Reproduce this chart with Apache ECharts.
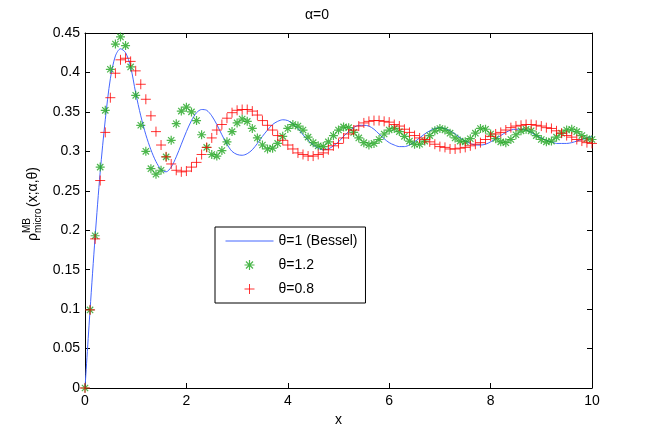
<!DOCTYPE html>
<html>
<head>
<meta charset="utf-8">
<script src="https://cdn.jsdelivr.net/npm/echarts@6.0.0/dist/echarts.min.js"></script>
<style>
  html, body { margin: 0; padding: 0; background: #fff; }
  #main { width: 654px; height: 436px; }
</style>
</head>
<body>
<div id="main"></div>
<script>
// x grid (one marker every 0.1)
var xs = [0, 0.1, 0.2, 0.3, 0.4, 0.5, 0.6, 0.7, 0.8, 0.9,
  1, 1.1, 1.2, 1.3, 1.4, 1.5, 1.6, 1.7, 1.8, 1.9,
  2, 2.1, 2.2, 2.3, 2.4, 2.5, 2.6, 2.7, 2.8, 2.9,
  3, 3.1, 3.2, 3.3, 3.4, 3.5, 3.6, 3.7, 3.8, 3.9,
  4, 4.1, 4.2, 4.3, 4.4, 4.5, 4.6, 4.7, 4.8, 4.9,
  5, 5.1, 5.2, 5.3, 5.4, 5.5, 5.6, 5.7, 5.8, 5.9,
  6, 6.1, 6.2, 6.3, 6.4, 6.5, 6.6, 6.7, 6.8, 6.9,
  7, 7.1, 7.2, 7.3, 7.4, 7.5, 7.6, 7.7, 7.8, 7.9,
  8, 8.1, 8.2, 8.3, 8.4, 8.5, 8.6, 8.7, 8.8, 8.9,
  9, 9.1, 9.2, 9.3, 9.4, 9.5, 9.6, 9.7, 9.8, 9.9, 10];

// theta = 1 (Bessel), blue line
var bessel = [0, 0.099, 0.192, 0.274, 0.340, 0.392, 0.421, 0.430, 0.425, 0.407,
  0.374, 0.345, 0.321, 0.302, 0.287, 0.277, 0.274, 0.280, 0.293, 0.309,
  0.325, 0.339, 0.349, 0.353, 0.352, 0.345, 0.334, 0.321, 0.309, 0.300,
  0.296, 0.295, 0.297, 0.302, 0.310, 0.319, 0.327, 0.334, 0.338, 0.340,
  0.339, 0.335, 0.329, 0.321, 0.314, 0.308, 0.304, 0.302, 0.303, 0.307,
  0.312, 0.319, 0.325, 0.330, 0.333, 0.333, 0.332, 0.328, 0.322, 0.316,
  0.311, 0.308, 0.306, 0.306, 0.308, 0.312, 0.317, 0.322, 0.326, 0.329,
  0.330, 0.329, 0.326, 0.322, 0.317, 0.313, 0.310, 0.308, 0.308, 0.309,
  0.312, 0.316, 0.320, 0.324, 0.327, 0.328, 0.328, 0.327, 0.324, 0.320,
  0.317, 0.314, 0.312, 0.310, 0.310, 0.310, 0.311, 0.313, 0.315, 0.317, 0.319];

// theta = 1.2, green asterisks
var theta12 = [0, 0.099, 0.193, 0.280, 0.352, 0.404, 0.436, 0.445, 0.434, 0.407,
  0.371, 0.333, 0.300, 0.278, 0.271, 0.276, 0.293, 0.314, 0.335, 0.351,
  0.356, 0.350, 0.339, 0.321, 0.305, 0.296, 0.294, 0.301, 0.312, 0.325,
  0.336, 0.341, 0.338, 0.329, 0.317, 0.308, 0.303, 0.304, 0.310, 0.319,
  0.329, 0.334, 0.332, 0.327, 0.318, 0.311, 0.307, 0.306, 0.312, 0.320,
  0.327, 0.331, 0.330, 0.324, 0.317, 0.311, 0.308, 0.310, 0.315, 0.322,
  0.327, 0.329, 0.325, 0.319, 0.313, 0.309, 0.309, 0.313, 0.320, 0.326,
  0.329, 0.327, 0.323, 0.317, 0.313, 0.312, 0.316, 0.323, 0.329, 0.328,
  0.322, 0.316, 0.312, 0.311, 0.315, 0.321, 0.326, 0.328, 0.326, 0.320,
  0.315, 0.312, 0.313, 0.318, 0.323, 0.327, 0.328, 0.325, 0.320, 0.316, 0.315];

// theta = 0.8, red plus signs
var theta08 = [0, 0.099, 0.189, 0.263, 0.324, 0.368, 0.399, 0.416, 0.418, 0.414,
  0.402, 0.385, 0.366, 0.345, 0.325, 0.308, 0.293, 0.284, 0.276, 0.274,
  0.275, 0.280, 0.286, 0.296, 0.305, 0.317, 0.327, 0.334, 0.342, 0.349,
  0.352, 0.353, 0.353, 0.351, 0.346, 0.339, 0.333, 0.327, 0.320, 0.314,
  0.308, 0.303, 0.298, 0.296, 0.294, 0.294, 0.296, 0.298, 0.302, 0.307,
  0.310, 0.317, 0.322, 0.327, 0.332, 0.336, 0.338, 0.339, 0.339, 0.338,
  0.337, 0.334, 0.332, 0.328, 0.324, 0.320, 0.317, 0.315, 0.312, 0.309,
  0.306, 0.305, 0.303, 0.303, 0.304, 0.305, 0.307, 0.309, 0.311, 0.315,
  0.319, 0.322, 0.324, 0.327, 0.330, 0.332, 0.333, 0.334, 0.334, 0.333,
  0.332, 0.330, 0.329, 0.326, 0.323, 0.320, 0.318, 0.315, 0.313, 0.311, 0.310];

var seriesNames = ['θ=1 (Bessel)', 'θ=1.2', 'θ=0.8'];
var xTicks = [0, 2, 4, 6, 8, 10];
var yTicks = [0, 0.05, 0.1, 0.15, 0.2, 0.25, 0.3, 0.35, 0.4, 0.45];

var FONT = "'Liberation Sans', Arial, Helvetica, sans-serif";
var plusPath = 'path://M0,5L10,5M5,0L5,10';
var starPath = 'path://M5,0L5,10M0,5L10,5M1.5,1.5L8.5,8.5M1.5,8.5L8.5,1.5';

function pairs(ys) {
    return xs.map(function (x, i) { return [x, ys[i]]; });
}

var chart = echarts.init(document.getElementById('main'), null, { renderer: 'canvas' });

var xBase = {
    type: 'value',
    min: xTicks[0],
    max: xTicks[xTicks.length - 1],
    interval: xTicks[1] - xTicks[0],
    splitLine: { show: false },
    axisLine: { show: true, onZero: false, lineStyle: { color: '#000', width: 1 } },
    axisTick: { show: true, inside: true, length: 5, lineStyle: { color: '#000' } }
};
var yBase = {
    type: 'value',
    min: yTicks[0],
    max: yTicks[yTicks.length - 1],
    interval: yTicks[1] - yTicks[0],
    splitLine: { show: false },
    axisLine: { show: true, onZero: false, lineStyle: { color: '#000', width: 1 } },
    axisTick: { show: true, inside: true, length: 5, lineStyle: { color: '#000' } }
};

var option = {
    animation: false,
    backgroundColor: '#fff',
    textStyle: { fontFamily: FONT },
    title: {
        text: 'α=0',
        left: 300,
        top: 3,
        textStyle: { fontSize: 14, fontWeight: 'normal', color: '#000', fontFamily: FONT }
    },
    grid: { left: 85, right: 62, top: 33, bottom: 48, containLabel: false },
    legend: {
        orient: 'vertical',
        left: 215,
        top: 227,
        itemWidth: 48,
        itemHeight: 10,
        itemGap: 10,
        padding: [7, 8, 7, 10],
        borderColor: '#000',
        borderWidth: 1,
        backgroundColor: '#fff',
        textStyle: { fontSize: 14, color: '#000', fontFamily: FONT },
        data: [
            { name: seriesNames[0], itemStyle: { opacity: 0 }, lineStyle: { opacity: 1, width: 1 } },
            { name: seriesNames[1], icon: starPath, itemStyle: { borderWidth: 1.2 } },
            { name: seriesNames[2], icon: plusPath, itemStyle: { borderWidth: 1 } }
        ]
    },
    xAxis: [
        Object.assign({}, xBase, {
            position: 'bottom',
            name: 'x',
            nameLocation: 'middle',
            nameGap: 20,
            nameTextStyle: { fontSize: 14, color: '#000', fontFamily: FONT },
            axisLabel: { fontSize: 14, color: '#000', margin: 6, fontFamily: FONT }
        }),
        Object.assign({}, xBase, { position: 'top', axisLabel: { show: false } })
    ],
    yAxis: [
        Object.assign({}, yBase, {
            position: 'left',
            axisLabel: {
                fontSize: 14, color: '#000', margin: 5, fontFamily: FONT,
                formatter: function (v) { return String(+v.toFixed(2)); }
            }
        }),
        Object.assign({}, yBase, { position: 'right', axisLabel: { show: false } })
    ],
    graphic: [{
        type: 'group',
        x: 40,
        y: 241,
        rotation: Math.PI / 2,
        children: [
            { type: 'text', x: 0, y: 0, style: { text: 'ρ', fontSize: 14, fontFamily: FONT, fill: '#000', verticalAlign: 'bottom' } },
            { type: 'text', x: 8, y: -8, style: { text: 'MB', fontSize: 10, fontFamily: FONT, fill: '#000', verticalAlign: 'bottom' } },
            { type: 'text', x: 8, y: 3, style: { text: 'micro', fontSize: 10, fontFamily: FONT, fill: '#000', verticalAlign: 'bottom' } },
            { type: 'text', x: 34, y: 0, style: { text: '(x;α,θ)', fontSize: 14, fontFamily: FONT, fill: '#000', verticalAlign: 'bottom' } }
        ]
    }],
    series: [
        {
            name: seriesNames[0],
            type: 'line',
            data: pairs(bessel),
            symbol: 'none',
            smooth: 0.3,
            lineStyle: { color: '#4466ff', width: 1 },
            itemStyle: { color: '#4466ff' },
            z: 2
        },
        {
            name: seriesNames[1],
            type: 'scatter',
            data: pairs(theta12),
            symbol: starPath,
            symbolSize: 9,
            itemStyle: { color: '#1fa51f', borderColor: '#1fa51f', borderWidth: 1.2 },
            z: 3
        },
        {
            name: seriesNames[2],
            type: 'scatter',
            data: pairs(theta08),
            symbol: plusPath,
            symbolSize: 10,
            itemStyle: { color: '#ff0000', borderColor: '#ff0000', borderWidth: 1 },
            z: 4
        }
    ]
};

chart.setOption(option);
</script>
</body>
</html>
